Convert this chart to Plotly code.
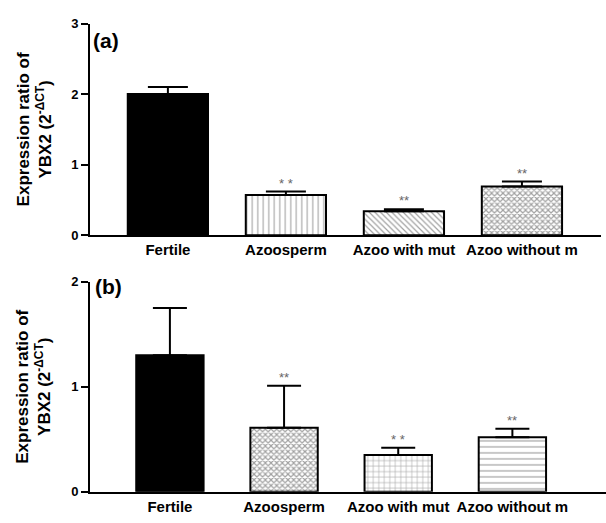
import plotly.graph_objects as go

categories = ["Fertile", "Azoosperm", "Azoo with mut", "Azoo without m"]

values_a = [2.00, 0.57, 0.34, 0.69]
errors_a = [0.10, 0.05, 0.03, 0.07]
stars_a = ["", "* *", "**", "**"]
patterns_a = ["", "|", "\\", "x"]

values_b = [1.30, 0.61, 0.35, 0.52]
errors_b = [0.45, 0.40, 0.07, 0.08]
stars_b = ["", "**", "* *", "**"]
patterns_b = ["", "x", "+", "-"]

yticks_a = [0, 1, 2, 3]
yticks_b = [0, 1, 2]

W, H = 606, 523
FONT = "Liberation Sans, Arial, sans-serif"


def px_x(p):
    return p / W


def px_y(p):
    return 1 - p / H


fig = go.Figure()


def add_panel(vals, errs, pats, sizes, sols, xa, ya, width, capw):
    fig.add_trace(go.Bar(
        x=categories, y=vals, xaxis=xa, yaxis=ya, width=width,
        marker=dict(
            color=["black", "white", "white", "white"],
            line=dict(color="black", width=2),
            pattern=dict(shape=pats, fgcolor="#111", bgcolor="white",
                         size=sizes, solidity=sols),
        ),
        error_y=dict(type="data", array=errs, arrayminus=[0] * len(errs),
                     symmetric=False, color="black", thickness=2, width=capw),
        showlegend=False,
        hoverinfo="skip",
    ))


add_panel(values_a, errors_a, patterns_a, [6, 5.5, 4, 4], [0.2, 0.2, 0.3, 0.5],
          "x", "y", 0.68, 20)
add_panel(values_b, errors_b, patterns_b, [6, 4, 5.5, 6], [0.2, 0.5, 0.2, 0.2],
          "x2", "y2", 0.59, 17)

annotations = []
for cat, v, e, s in zip(categories, values_a, errors_a, stars_a):
    if s:
        annotations.append(dict(x=cat, y=v + e, xref="x", yref="y", text=s,
                                showarrow=False, yanchor="bottom", yshift=-1,
                                font=dict(family=FONT, size=13, color="#666")))
for cat, v, e, s in zip(categories, values_b, errors_b, stars_b):
    if s:
        annotations.append(dict(x=cat, y=v + e, xref="x2", yref="y2", text=s,
                                showarrow=False, yanchor="bottom", yshift=-1,
                                font=dict(family=FONT, size=13, color="#666")))

ytitle = "Expression ratio of<br>YBX2 (2<sup>-ΔCT</sup>)"
for yc in [(17 + 235) / 2, (283 + 499) / 2]:
    annotations.append(dict(x=px_x(34), y=px_y(yc), xref="paper", yref="paper",
                            text=ytitle, textangle=-90, showarrow=False,
                            xanchor="center", yanchor="middle",
                            font=dict(family=FONT, size=17, color="black", weight=700)))

annotations.append(dict(x=px_x(91), y=px_y(34), xref="paper", yref="paper", text="(a)",
                        showarrow=False, xanchor="left", yanchor="middle",
                        font=dict(family=FONT, size=21, color="black", weight=700)))
annotations.append(dict(x=px_x(93), y=px_y(288), xref="paper", yref="paper", text="(b)",
                        showarrow=False, xanchor="left", yanchor="middle",
                        font=dict(family=FONT, size=21, color="black", weight=700)))

xcommon = dict(showline=True, linewidth=2, linecolor="black", ticks="",
               showgrid=False, zeroline=False,
               tickfont=dict(family=FONT, size=15, color="black", weight=700))
ycommon = dict(showline=True, linewidth=2, linecolor="black", ticks="outside",
               ticklen=7, tickwidth=2, tickcolor="black", showgrid=False,
               zeroline=False,
               tickfont=dict(family=FONT, size=13, color="black", weight=700))

fig.update_layout(
    width=W, height=H,
    margin=dict(l=0, r=0, t=0, b=0),
    paper_bgcolor="white", plot_bgcolor="white",
    xaxis=dict(domain=[px_x(90), px_x(601)], range=[-0.66, 3.67], anchor="y", **xcommon),
    yaxis=dict(domain=[px_y(235), px_y(17)], range=[0, 3], tickvals=yticks_a,
               anchor="x", **ycommon),
    xaxis2=dict(domain=[px_x(90), 1.0], range=[-0.70, 3.82], anchor="y2", **xcommon),
    yaxis2=dict(domain=[px_y(499), px_y(283)], range=[0, 2], tickvals=yticks_b,
                anchor="x2", **ycommon),
    annotations=annotations,
)

fig.write_html("out.html", config={"displayModeBar": False},
               post_script="document.body.style.margin='0';document.body.style.overflow='hidden';")
